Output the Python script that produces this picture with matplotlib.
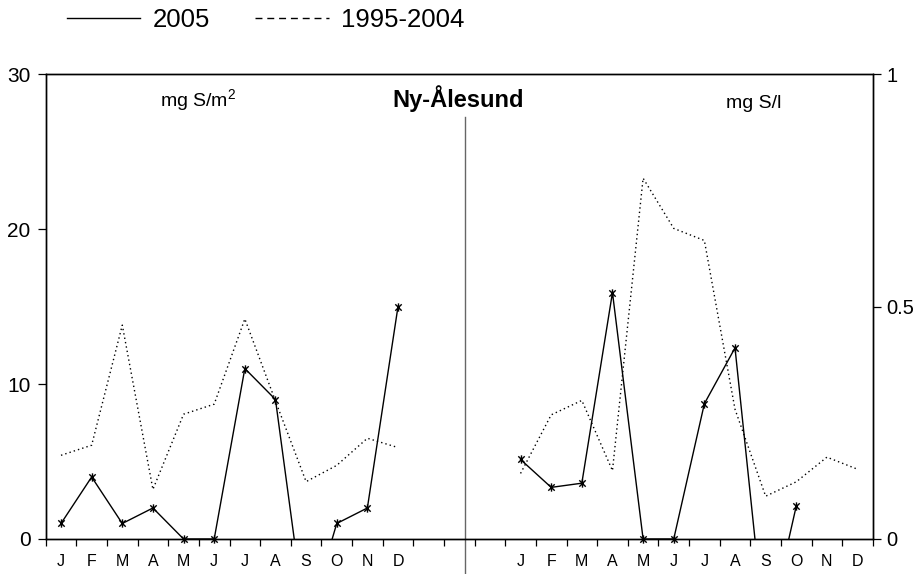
#Ny-Ålesund sulphate: monthly deposition (mg S/m2) and concentration (mg S/l), 2005 vs 1995-2004
import numpy as np
import matplotlib.pyplot as plt
from matplotlib.path import Path
from matplotlib.lines import Line2D

plt.rcParams['font.family'] = ['Liberation Sans', 'DejaVu Sans']
plt.rcParams['mathtext.fontset'] = 'custom'
plt.rcParams['mathtext.rm'] = 'Liberation Sans'

months = ['J', 'F', 'M', 'A', 'M', 'J', 'J', 'A', 'S', 'O', 'N', 'D']
#left panel, wet deposition mg S/m2 (negative = below axis, clipped like in the original)
dep_2005 = [1, 4, 1, 2, 0, 0, 11, 9, -5.7, 1, 2, 15]
dep_mean = [5.4, 6.05, 13.8, 3.2, 8.05, 8.7, 14.2, 8.9, 3.7, 4.75, 6.5, 5.9]
#right panel, concentration mg S/l
conc_2005 = [0.171, 0.111, 0.120, 0.530, 0, 0, 0.291, 0.411, -0.22, 0.071, np.nan, np.nan]
conc_mean = [0.141, 0.267, 0.298, 0.147, 0.776, 0.668, 0.642, 0.279, 0.092, 0.123, 0.176, 0.150]

n = len(months)
gap = 3  # empty categories between the two panels
x_left = np.arange(n)
x_right = np.arange(n) + n + gap
ncat = 2 * n + gap

#asterisk marker like excel
star = Path([(-1, -1), (1, 1), (-1, 1), (1, -1), (0, -1.3), (0, 1.3)],
            [Path.MOVETO, Path.LINETO, Path.MOVETO, Path.LINETO, Path.MOVETO, Path.LINETO])

fig = plt.figure(figsize=(9.14, 5.74), dpi=100)
ax = fig.add_axes([0.05, 0.061, 0.905, 0.81])
ax2 = ax.twinx()

dot = (0, (1, 2.2))


def draw(a, x, yrs, mean):
    yrs = np.array(yrs, dtype=float)
    a.plot(x, mean, color='black', lw=1.0, ls=dot)
    a.plot(x, yrs, color='black', lw=1.0)
    shown = np.where(yrs >= 0, yrs, np.nan)
    a.plot(x, shown, ls='none', marker=star, ms=6, mec='black', mew=1.0, clip_on=False)


draw(ax, x_left, dep_2005, dep_mean)
draw(ax2, x_right, conc_2005, conc_mean)

ax.set_xlim(-0.5, ncat - 0.5)
ax.set_ylim(0, 30)
ax2.set_ylim(0, 1)
ax.set_yticks([0, 10, 20, 30])
ax2.set_yticks([0, 0.5, 1])
ax2.set_yticklabels(['0', '0.5', '1'])

ax.set_xticks(np.concatenate([x_left, x_right]))
ax.set_xticklabels(months + months)
ax.set_xticks(np.arange(ncat + 1) - 0.5, minor=True)
ax.tick_params(axis='x', which='major', length=0, pad=11, labelsize=11.5)
ax.tick_params(axis='x', which='minor', length=5, width=0.9, direction='out')
ax.tick_params(axis='y', length=6, width=0.9, pad=5, labelsize=15)
ax2.tick_params(axis='y', length=6, width=0.9, pad=3.5, labelsize=14.5)

for a in (ax, ax2):
    for s in a.spines.values():
        s.set_linewidth(1.0)
        s.set_color('black')

#divider between the two panels
ax.axvline(13.18, ymin=-0.075, ymax=0.9075, color='0.4', lw=1, clip_on=False)

ax.text(0.184, 0.928, 'mg S/m$^2$', transform=ax.transAxes, ha='center', va='baseline', fontsize=14)
ax.text(0.498, 0.93, 'Ny-Ålesund', transform=ax.transAxes, ha='center', va='baseline',
        fontsize=17, fontweight='bold')
ax.text(0.856, 0.928, 'mg S/l', transform=ax.transAxes, ha='center', va='baseline', fontsize=14)

handles = [Line2D([], [], color='black', lw=1),
           Line2D([], [], color='black', lw=1, ls=(0, (5, 3.5)))]
fig.legend(handles, ['2005', '1995-2004'], loc='center left', bbox_to_anchor=(67 / 914, 1 - 20 / 574),
           ncol=2, frameon=False, fontsize=18.5, handlelength=2.85, handletextpad=0.5,
           columnspacing=1.75, borderpad=0, borderaxespad=0)

fig.savefig('out.png', dpi=100)
